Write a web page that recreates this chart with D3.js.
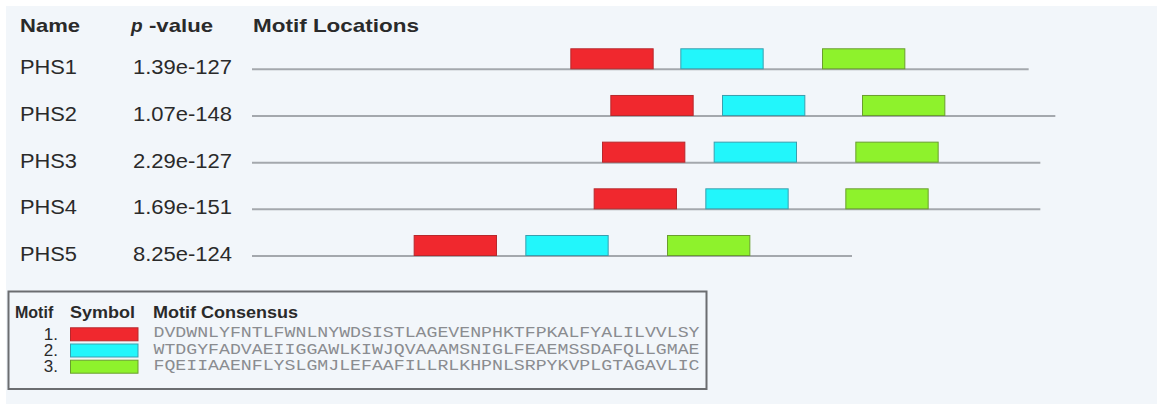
<!DOCTYPE html>
<html>
<head>
<meta charset="utf-8">
<script src="https://cdn.jsdelivr.net/npm/d3@7"></script>
<style>
  html, body { margin: 0; padding: 0; background: #ffffff; }
  svg { display: block; }
</style>
</head>
<body>
<svg id="chart" width="1159" height="406"></svg>
<script>
// ---- data ----
const names = ["PHS1", "PHS2", "PHS3", "PHS4", "PHS5"];
const pValues = ["1.39e-127", "1.07e-148", "2.29e-127", "1.69e-151", "8.25e-124"];
const seqLengths = [466, 482, 473, 473, 360];
const motif1Starts = [191, 215, 210, 205, 97];
const motif2Starts = [257, 282, 277, 272, 164];
const motif3Starts = [342, 366, 362, 356, 249];
const motifLength = 50;
const motifLabels = ["1.", "2.", "3."];
const motifConsensus = [
  "DVDWNLYFNTLFWNLNYWDSISTLAGEVENPHKTFPKALFYALILVVLSY",
  "WTDGYFADVAEIIGGAWLKIWJQVAAAMSNIGLFEAEMSSDAFQLLGMAE",
  "FQEIIAAENFLYSLGMJLEFAAFILLRLKHPNLSRPYKVPLGTAGAVLIC"
];
const motifFill = ["#f0282e", "#22f6fb", "#8ef22c"];
const motifStroke = ["#b8282c", "#3a9fae", "#6a9e2e"];

const svg = d3.select("#chart");
const textColor = "#2a2a2a";
const font = "'Liberation Sans', Arial, Helvetica, sans-serif";

// background panel
svg.append("rect").attr("x", 6).attr("y", 6).attr("width", 1151).attr("height", 398)
  .attr("fill", "#f2f6fa");

// scales
const x = d3.scaleLinear().domain([0, 600]).range([252, 1252]);
const y = d3.scalePoint().domain(names).range([69.3, 256]);

// headers
const hdr = svg.append("g").attr("font-family", font).attr("font-weight", "bold")
  .attr("font-size", 19).attr("fill", textColor);
hdr.append("text").attr("x", 20).attr("y", 32).attr("textLength", 60).attr("lengthAdjust", "spacingAndGlyphs").text("Name");
hdr.append("text").attr("x", 131).attr("y", 32).attr("font-style", "italic").text("p");
hdr.append("text").attr("x", 149).attr("y", 32).attr("textLength", 64).attr("lengthAdjust", "spacingAndGlyphs").text("-value");
hdr.append("text").attr("x", 253).attr("y", 32).attr("textLength", 166).attr("lengthAdjust", "spacingAndGlyphs").text("Motif Locations");

// rows
const rows = svg.append("g").selectAll("g").data(names).join("g");
rows.append("text")
  .attr("x", 20).attr("y", d => y(d) + 5)
  .attr("font-family", font).attr("font-size", 20.5).attr("fill", textColor)
  .attr("textLength", 57).attr("lengthAdjust", "spacingAndGlyphs")
  .text(d => d);
rows.append("text")
  .attr("x", 133).attr("y", d => y(d) + 5)
  .attr("font-family", font).attr("font-size", 20.5).attr("fill", textColor)
  .attr("textLength", 99).attr("lengthAdjust", "spacingAndGlyphs")
  .text((d, i) => pValues[i]);
rows.append("line")
  .attr("x1", x(0)).attr("x2", (d, i) => x(seqLengths[i]))
  .attr("y1", d => y(d)).attr("y2", d => y(d))
  .attr("stroke", "#a4a8ad").attr("stroke-width", 2);

const motifStarts = [motif1Starts, motif2Starts, motif3Starts];
const boxes = [];
names.forEach((n, i) => motifStarts.forEach((arr, m) => boxes.push({ name: n, start: arr[i], motif: m })));
svg.append("g").selectAll("rect").data(boxes).join("rect")
  .attr("x", d => x(d.start) + 0.5)
  .attr("y", d => y(d.name) - 20.5)
  .attr("width", d => x(d.start + motifLength) - x(d.start) - 1)
  .attr("height", 20)
  .attr("fill", d => motifFill[d.motif])
  .attr("stroke", d => motifStroke[d.motif]).attr("stroke-width", 1);

// legend
const lg = svg.append("g");
lg.append("rect").attr("x", 8.5).attr("y", 291.5).attr("width", 698).attr("height", 97.5)
  .attr("fill", "none").attr("stroke", "#6b6d70").attr("stroke-width", 2);
const lh = lg.append("g").attr("font-family", font).attr("font-weight", "bold")
  .attr("font-size", 16).attr("fill", textColor);
lh.append("text").attr("x", 15).attr("y", 317.5).text("Motif");
lh.append("text").attr("x", 70).attr("y", 317.5).attr("textLength", 65).attr("lengthAdjust", "spacingAndGlyphs").text("Symbol");
lh.append("text").attr("x", 153).attr("y", 317.5).attr("textLength", 145).attr("lengthAdjust", "spacingAndGlyphs").text("Motif Consensus");

const ly = d3.scalePoint().domain(motifLabels).range([334.3, 366.7]);
lg.selectAll("text.num").data(motifLabels).join("text").attr("class", "num")
  .attr("x", 58).attr("y", d => ly(d) + 5.5)
  .attr("text-anchor", "end")
  .attr("font-family", font).attr("font-size", 17).attr("fill", textColor)
  .text(d => d);
lg.selectAll("rect.sw").data(motifLabels).join("rect").attr("class", "sw")
  .attr("x", 70.5).attr("y", d => ly(d) - 6.5)
  .attr("width", 67.5).attr("height", 13)
  .attr("fill", (d, i) => motifFill[i])
  .attr("stroke", (d, i) => motifStroke[i]).attr("stroke-width", 1);
lg.selectAll("text.cons").data(motifConsensus).join("text").attr("class", "cons")
  .attr("x", 153.5).attr("y", (d, i) => ly(motifLabels[i]) + 3)
  .attr("font-family", "'Liberation Mono', 'Courier New', monospace").attr("font-size", 14.5)
  .attr("fill", "#8a8c90")
  .attr("textLength", 546).attr("lengthAdjust", "spacingAndGlyphs")
  .text(d => d);
</script>
</body>
</html>
